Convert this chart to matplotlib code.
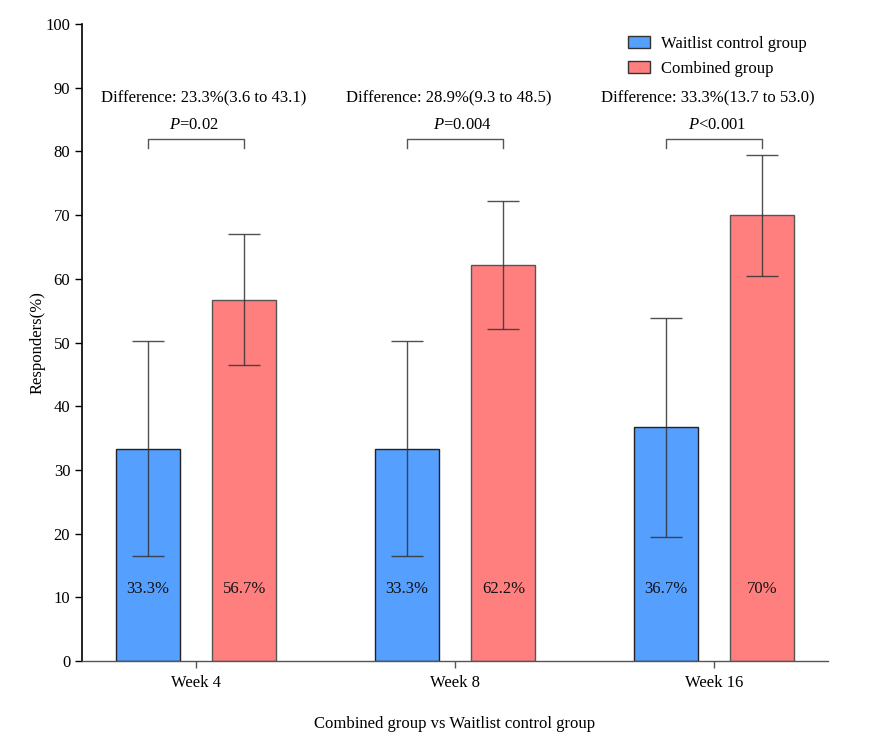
import matplotlib
matplotlib.use("Agg")
import matplotlib.pyplot as plt
import numpy as np
from matplotlib.patches import Patch

plt.rcParams['font.family'] = ['Liberation Serif', 'DejaVu Serif']
plt.rcParams['mathtext.fontset'] = 'custom'
plt.rcParams['mathtext.it'] = 'Liberation Serif:italic'
plt.rcParams['mathtext.rm'] = 'Liberation Serif'

categories = ["Week 4", "Week 8", "Week 16"]
waitlist = [33.3, 33.3, 36.7]
combined = [56.7, 62.2, 70.0]
waitlist_lo = [16.5, 16.5, 19.4]
waitlist_hi = [50.2, 50.2, 53.9]
combined_lo = [46.4, 52.2, 60.5]
combined_hi = [67.0, 72.2, 79.4]
waitlist_labels = ["33.3%", "33.3%", "36.7%"]
combined_labels = ["56.7%", "62.2%", "70%"]
differences = ["Difference: 23.3%(3.6 to 43.1)",
               "Difference: 28.9%(9.3 to 48.5)",
               "Difference: 33.3%(13.7 to 53.0)"]
pvalues = ["$P$=0.02", "$P$=0.004", "$P$<0.001"]

# small horizontal text nudges (layout only)
diff_nudge = [0.031, -0.023, -0.023]
p_nudge = [-0.01, 0.03, 0.01]

blue = '#559FFF'
red = '#FF7F7F'

fig = plt.figure(figsize=(8.83, 7.46), dpi=100)
ax = fig.add_axes([0.0929, 0.1139, 0.8448, 0.8539])

x = np.arange(len(categories))
w = 0.247
off = 0.187

ax.bar(x - off, waitlist, w, color=blue, edgecolor='#222222', linewidth=1.0, zorder=2)
ax.bar(x + off, combined, w, color=red, edgecolor='#555555', linewidth=1.0, zorder=2)

wl = np.array(waitlist); cb = np.array(combined)
ax.errorbar(x - off, wl, yerr=[wl - np.array(waitlist_lo), np.array(waitlist_hi) - wl],
            fmt='none', ecolor='#333333', elinewidth=1.0, capsize=11.5, capthick=1.0, zorder=3, alpha=0.85)
ax.errorbar(x + off, cb, yerr=[cb - np.array(combined_lo), np.array(combined_hi) - cb],
            fmt='none', ecolor='#333333', elinewidth=1.0, capsize=11.5, capthick=1.0, zorder=3, alpha=0.85)

for i in range(len(categories)):
    ax.text(x[i] - off, 11.3, waitlist_labels[i], ha='center', va='center', fontsize=12, color='#111111', zorder=4)
    ax.text(x[i] + off, 11.3, combined_labels[i], ha='center', va='center', fontsize=12, color='#111111', zorder=4)
    ax.plot([x[i] - off, x[i] - off, x[i] + off, x[i] + off], [80.6, 81.9, 81.9, 80.6],
            color='#555555', linewidth=1.0)
    ax.text(x[i] + p_nudge[i], 84.2, pvalues[i], ha='center', va='center', fontsize=12)
    ax.text(x[i] + diff_nudge[i], 88.3, differences[i], ha='center', va='center', fontsize=12)

ax.set_xlim(-0.44, 2.44)
ax.set_ylim(0, 100)
ax.set_yticks(np.arange(0, 101, 10))
ax.set_xticks(x)
ax.set_xticklabels(categories, fontsize=12)
ax.tick_params(axis='y', labelsize=12, length=5, width=1, direction='out')
ax.tick_params(axis='x', length=5, width=1, direction='out', color='#555555', pad=5)
ax.spines['top'].set_visible(False)
ax.spines['right'].set_visible(False)
ax.spines['left'].set_linewidth(1.2)
ax.spines['bottom'].set_linewidth(1.0)
ax.spines['bottom'].set_color('#555555')

ax.set_ylabel("Responders(%)", fontsize=12, labelpad=0)
ax.set_xlabel("Combined group vs Waitlist control group", fontsize=12, labelpad=18)

handles = [Patch(facecolor=blue, edgecolor='#333333', label='Waitlist control group'),
           Patch(facecolor=red, edgecolor='#333333', label='Combined group')]
ax.legend(handles=handles, loc='upper left', bbox_to_anchor=(0.712, 1.005), frameon=False,
          fontsize=12, handlelength=1.3, handleheight=0.75, handletextpad=0.7, labelspacing=0.55)

fig.savefig("out.png", dpi=100)
